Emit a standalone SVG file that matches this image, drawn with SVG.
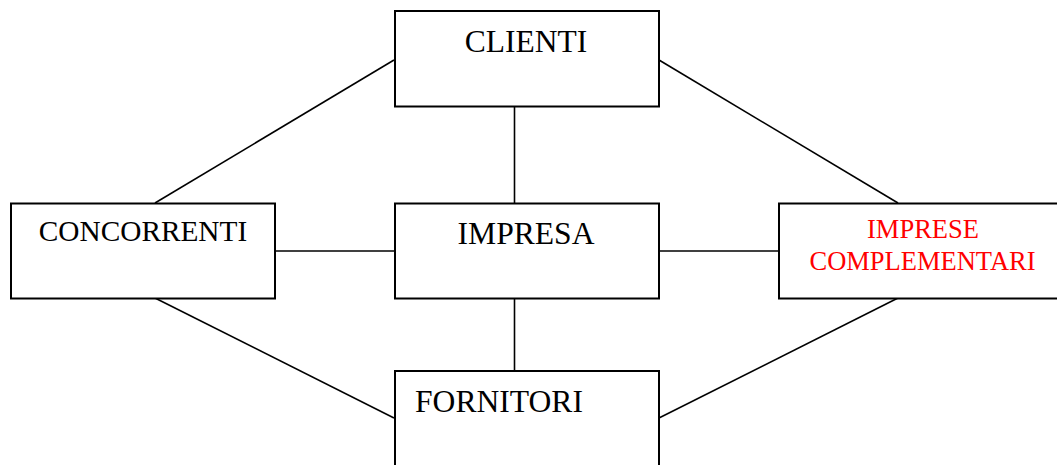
<svg xmlns="http://www.w3.org/2000/svg" width="1057" height="465" viewBox="0 0 1057 465">
  <style>
    .box { fill: #ffffff; stroke: #000000; stroke-width: 2; }
    .link { stroke: #000000; stroke-width: 1.6; fill: none; }
    .label { font-family: "Liberation Serif", "Times New Roman", serif; fill: #000000; }
    .red { fill: #ff0000; }
  </style>
  <rect width="1057" height="465" fill="#ffffff"/>

  <!-- connectors -->
  <g id="connectors">
    <line class="link" x1="514.5" y1="107" x2="514.5" y2="203"/>
    <line class="link" x1="514.5" y1="298" x2="514.5" y2="371"/>
    <line class="link" x1="275" y1="251" x2="395" y2="251"/>
    <line class="link" x1="659" y1="251" x2="779" y2="251"/>
    <line class="link" x1="394" y1="60" x2="155" y2="203"/>
    <line class="link" x1="659" y1="60" x2="898" y2="203"/>
    <line class="link" x1="155" y1="298" x2="394" y2="418"/>
    <line class="link" x1="898" y1="298" x2="659" y2="418"/>
  </g>

  <g id="clienti">
    <rect class="box" x="395" y="11" width="264" height="95.5"/>
    <text class="label" x="526" y="52" font-size="31.5" text-anchor="middle">CLIENTI</text>
  </g>

  <g id="concorrenti">
    <rect class="box" x="11" y="203.5" width="264" height="95"/>
    <text class="label" x="143" y="241" font-size="29.3" text-anchor="middle">CONCORRENTI</text>
  </g>

  <g id="impresa">
    <rect class="box" x="395" y="203.5" width="264" height="95"/>
    <text class="label" x="526" y="244" font-size="31.6" text-anchor="middle">IMPRESA</text>
  </g>

  <g id="imprese-complementari">
    <rect class="box" x="779" y="203.5" width="290" height="95"/>
    <text class="label red" x="923" y="237.5" font-size="26.5" text-anchor="middle">IMPRESE</text>
    <text class="label red" x="922.5" y="270" font-size="26.5" text-anchor="middle">COMPLEMENTARI</text>
  </g>

  <g id="fornitori">
    <rect class="box" x="395" y="371" width="264" height="110"/>
    <text class="label" x="415" y="411.5" font-size="31.6">FORNITORI</text>
  </g>
</svg>
